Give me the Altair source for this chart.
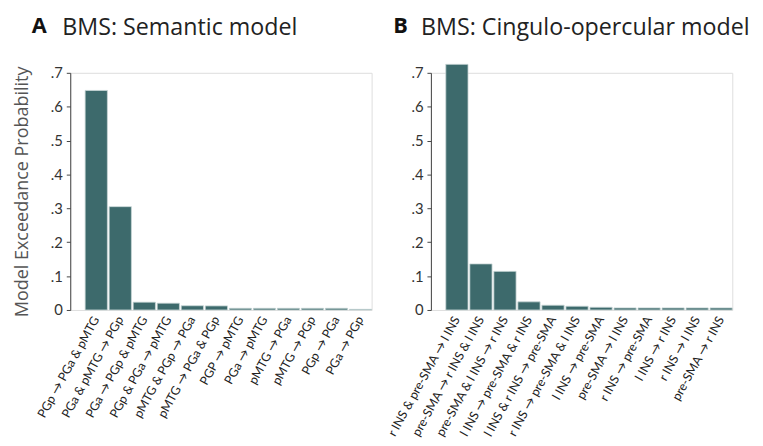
import altair as alt
import pandas as pd

# ---- data ----
sem_models = [
    "PGp → PGa & pMTG", "PGa & pMTG → PGp", "PGa → PGp & pMTG", "PGp & PGa → pMTG",
    "pMTG & PGp → PGa", "pMTG → PGa & PGp", "PGP → pMTG", "PGa → pMTG",
    "pMTG → PGa", "pMTG → PGp", "PGp → PGa", "PGa → PGp",
]
sem_probs = [0.648, 0.305, 0.023, 0.020, 0.0125, 0.012, 0.005, 0.005, 0.005, 0.005, 0.005, 0.002]

co_models = [
    "r INS & pre-SMA → l INS", "pre-SMA → r INS & l INS", "pre-SMA & l INS → r INS",
    "l INS → pre-SMA & r INS", "l INS & r INS → pre-SMA", "r INS → pre-SMA & l INS",
    "l INS → pre-SMA", "pre-SMA → l INS", "r INS → pre-SMA", "l INS → r INS",
    "r INS → l INS", "pre-SMA → r INS",
]
co_probs = [0.725, 0.136, 0.114, 0.024, 0.014, 0.011, 0.008, 0.006, 0.006, 0.006, 0.006, 0.006]

yticks = [0, 0.1, 0.2, 0.3, 0.4, 0.5, 0.6, 0.7]

FONT = "Lato"
TFONT = "Open Sans"
BAR = "#3d6a6c"
W, H = 305, 240


def panel(models, probs, letter, title, letter_dx, title_dx, show_ytitle):
    df = pd.DataFrame({"model": models, "p": probs})
    bars = alt.Chart(df).mark_bar(
        color=BAR, stroke="#c9d6d6", strokeWidth=0.8, clip=False
    ).encode(
        x=alt.X(
            "model:N", sort=models,
            scale=alt.Scale(paddingInner=0.075, paddingOuter=0.31, align=1),
            axis=alt.Axis(
                title=None, domain=False, ticks=False, labelAngle=-61,
                labelAlign="right", labelBaseline="middle", labelPadding=7,
                labelFontSize=12.5, labelColor="#222", labelFont=FONT,
                labelLimit=300,
            ),
        ),
        y=alt.Y(
            "p:Q",
            scale=alt.Scale(domain=[0, 0.7], nice=False, zero=True),
            axis=alt.Axis(
                values=yticks,
                labelExpr="datum.value == 0 ? '0' : replace(format(datum.value, '.1f'), '0.', '.')",
                title="Model Exceedance Probability" if show_ytitle else None,
                titleFontSize=18.2, titleFontWeight="normal", titleColor="#555",
                titleFont=TFONT, titlePadding=19,
                grid=False, domainColor="#444", tickColor="#444", tickSize=4,
                labelFontSize=15, labelColor="#333", labelFont=FONT, labelPadding=4,
            ),
        ),
    )
    lt = alt.Chart(pd.DataFrame({"t": [letter]})).mark_text(
        font=TFONT, fontSize=22, fontWeight="bold", align="left",
        baseline="top", color="#111",
    ).encode(x=alt.value(letter_dx), y=alt.value(-57), text="t:N")
    tt = alt.Chart(pd.DataFrame({"t": [title]})).mark_text(
        font=TFONT, fontSize=23.5, align="left", baseline="top", color="#222",
    ).encode(x=alt.value(title_dx), y=alt.value(-57.5), text="t:N")
    return alt.layer(bars, lt, tt).properties(width=W, height=H)


left = panel(sem_models, sem_probs, "A", "BMS: Semantic model", -39, -8, True)
right = panel(co_models, co_probs, "B", "BMS: Cingulo-opercular model", -38, -10, False)

chart = alt.hconcat(left, right, spacing=12).properties(
    padding={"left": 4, "top": 4, "right": 4, "bottom": 0}
).configure_view(stroke=None).configure(font=FONT, background="white")

chart.save("out.html", embed_options={"renderer": "svg", "actions": False})
